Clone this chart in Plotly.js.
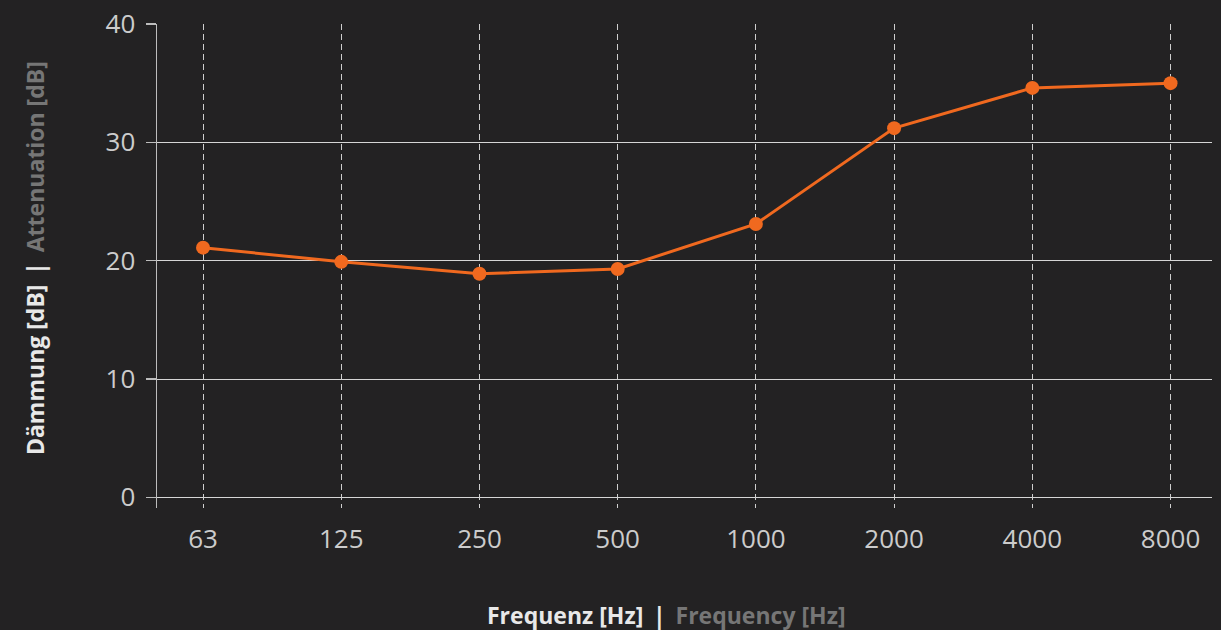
<!DOCTYPE html>
<html>
<head>
<meta charset="utf-8">
<script src="https://cdn.plot.ly/plotly-3.0.1.min.js"></script>
<style>html,body{margin:0;padding:0;background:#232223;}</style>
</head>
<body>
<div id="chart" style="width:1221px;height:630px;"></div>
<script>
const frequencies = ["63", "125", "250", "500", "1000", "2000", "4000", "8000"];
const attenuation = [21.1, 19.9, 18.9, 19.3, 23.1, 31.2, 34.6, 35.0];
const yTicks = [0, 10, 20, 30, 40];
const xTitle = "<b>Frequenz [Hz]</b> &#8201;<b>|</b>&#8201; <b><span style='color:#767676'>Frequency [Hz]</span></b>";
const yTitle = "<b>Dämmung [dB]</b> &#8201;<b>|</b>&#8201; <b><span style='color:#767676'>Attenuation [dB]</span></b>";

const trace = {
  x: frequencies,
  y: attenuation,
  type: "scatter",
  mode: "lines+markers",
  line: {color: "#f0691f", width: 3},
  marker: {color: "#f0691f", size: 14},
  hoverinfo: "x+y"
};

const layout = {
  width: 1221,
  height: 630,
  paper_bgcolor: "#232223",
  plot_bgcolor: "#232223",
  margin: {l: 157, r: 9, t: 24, b: 122},
  showlegend: false,
  font: {family: "Open Sans, Noto Sans, sans-serif", color: "#cfcfcf"},
  xaxis: {
    type: "category",
    range: [-0.333, 7.3],
    showgrid: true,
    gridcolor: "#cfcfcf",
    griddash: "6px,4px",
    gridwidth: 1,
    zeroline: false,
    showline: false,
    ticks: "",
    tickfont: {size: 26, color: "#cccccc", family: "Open Sans, sans-serif"},
    ticklabelstandoff: 13,
    fixedrange: true
  },
  yaxis: {
    range: [-0.9, 40],
    tickvals: yTicks,
    showgrid: true,
    gridcolor: "#d6d6d6",
    gridwidth: 1,
    zeroline: true,
    zerolinecolor: "#d6d6d6",
    zerolinewidth: 1.5,
    showline: true,
    linecolor: "#bdbdbd",
    linewidth: 1.5,
    ticks: "outside",
    ticklen: 10,
    tickcolor: "#bdbdbd",
    tickwidth: 1.5,
    ticklabelstandoff: 5,
    tickfont: {size: 26, color: "#cccccc", family: "Open Sans, sans-serif"},
    fixedrange: true
  },
  annotations: [
    {
      text: xTitle, xref: "paper", yref: "paper",
      x: 0.4834, y: -0.221, xanchor: "center", yanchor: "middle",
      showarrow: false,
      font: {size: 23, color: "#e8e8e8", family: "Open Sans, sans-serif"}
    },
    {
      text: yTitle, xref: "paper", yref: "paper",
      x: -0.1156, y: 0.5165, xanchor: "center", yanchor: "middle",
      textangle: -90, showarrow: false,
      font: {size: 23, color: "#e8e8e8", family: "Open Sans, sans-serif"}
    }
  ]
};

Plotly.newPlot("chart", [trace], layout, {displayModeBar: false, staticPlot: true});
</script>
</body>
</html>
